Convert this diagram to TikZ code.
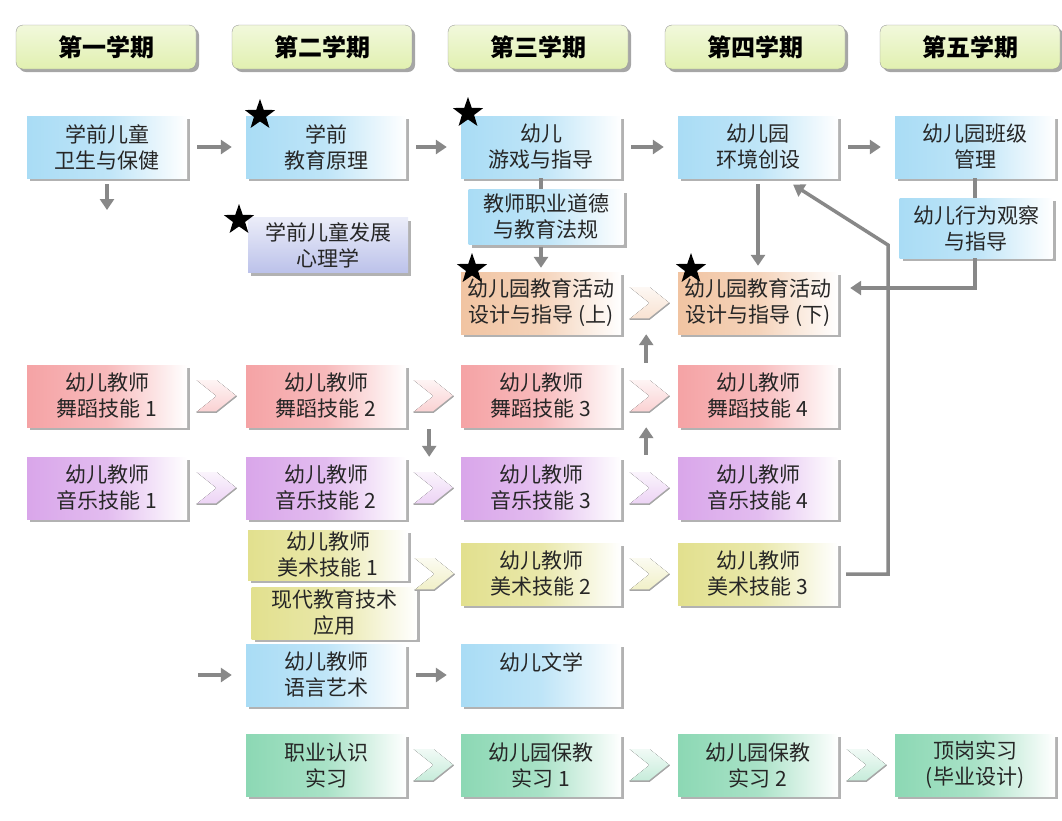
\documentclass[tikz,border=0pt]{standalone}
\usepackage{fontspec}
\newfontfamily\cjk{Noto Sans CJK SC}
\usepackage{tikz}
\usepackage{xcolor}
\usetikzlibrary{arrows.meta,calc,shapes.geometric,shadows}

\definecolor{hdr}{HTML}{E1F0B0}
\definecolor{kblue}{HTML}{A9DCF5}
\definecolor{klav}{HTML}{BCC2EA}
\definecolor{kpeach}{HTML}{F1C4A2}
\definecolor{kdance}{HTML}{F5A3A5}
\definecolor{kmusic}{HTML}{D9A6EA}
\definecolor{kart}{HTML}{E2E08E}
\definecolor{kgreen}{HTML}{8CD8B4}
\definecolor{kline}{HTML}{888888}

\begin{document}
\begin{tikzpicture}[x=1pt, y=-1pt,
  term/.style={rounded corners=7pt, draw=black!40, top color=hdr!45, bottom color=hdr,
    minimum width=180pt, minimum height=44pt, inner sep=0pt,
    font=\cjk\fontsize{24}{26}\selectfont\bfseries,
    drop shadow={shadow xshift=3pt, shadow yshift=-3pt, fill=black!35, opacity=1}},
  course/.style={minimum width=160pt, minimum height=62pt, inner sep=0pt, align=center,
    font=\cjk\fontsize{21}{26}\selectfont, text=black!85,
    left color=#1, right color=white, middle color=#1!75,
    drop shadow={shadow xshift=3pt, shadow yshift=-3pt, fill=black!30, opacity=1}},
  keystar/.style={star, star points=5, star point ratio=2.5, fill=black,
    minimum size=32pt, inner sep=0pt},
  link/.style={draw=kline, line width=3.5pt, -{Triangle[length=11pt,width=14pt]},
    shorten <=10pt, shorten >=14pt},
  plain/.style={draw=kline, line width=3.5pt}]

  \useasboundingbox (0,0) rectangle (1062,820);

  % semestre
  \foreach \i/\t/\x in {1/第一学期/106, 2/第二学期/322, 3/第三学期/538,
                        4/第四学期/755, 5/第五学期/970}
    \node[term] (t\i) at (\x,47) {\t};

  % foerste rad
  \node[course=kblue] (r1a) at (107,147) {学前儿童\\卫生与保健};
  \node[course=kblue] (r1b) at (326,147) {学前\\教育原理};
  \node[course=kblue] (r1c) at (541,147) {幼儿\\游戏与指导};
  \node[course=kblue] (r1d) at (758,147) {幼儿园\\环境创设};
  \node[course=kblue] (r1e) at (975,147) {幼儿园班级\\管理};

  \node[course=klav, minimum height=55pt, top color=klav!30, bottom color=klav]
    (psy) at (328,245) {学前儿童发展\\心理学};
  \node[course=kblue, minimum width=155pt, minimum height=55pt]
    (eth) at (546,217) {教师职业道德\\与教育法规};
  \node[course=kblue, minimum width=153pt, minimum height=60pt]
    (obs) at (976,228) {幼儿行为观察\\与指导};

  \node[course=kpeach] (pa) at (541,303) {幼儿园教育活动\\设计与指导 (上)};
  \node[course=kpeach] (pb) at (758,303) {幼儿园教育活动\\设计与指导 (下)};

  % ferdigheter
  \foreach \i/\x in {1/107, 2/326, 3/541, 4/758} {
    \node[course=kdance] (d\i) at (\x,396) {幼儿教师\\舞蹈技能 \i};
    \node[course=kmusic] (m\i) at (\x,488) {幼儿教师\\音乐技能 \i};
  }

  \node[course=kart, minimum height=50pt] (a1) at (328,555) {幼儿教师\\美术技能 1};
  \node[course=kart, minimum width=165pt, minimum height=52pt]
    (tech) at (334,613) {现代教育技术\\应用};
  \node[course=kart] (a2) at (541,574) {幼儿教师\\美术技能 2};
  \node[course=kart] (a3) at (758,574) {幼儿教师\\美术技能 3};

  \node[course=kblue] (l1) at (326,675) {幼儿教师\\语言艺术};
  \node[course=kblue] (l2) at (541,675) {幼儿文学\\\mbox{}};

  % praksis
  \node[course=kgreen] (p1) at (326,765) {职业认识\\实习};
  \node[course=kgreen] (p2) at (541,765) {幼儿园保教\\实习 1};
  \node[course=kgreen] (p3) at (758,765) {幼儿园保教\\实习 2};
  \node[course=kgreen] (p4) at (975,765) {顶岗实习\\(毕业设计)};

  % stjerner
  \foreach \i/\x/\y in {1/260/115, 2/468/113, 3/239/220, 4/472/269, 5/691/269}
    \node[keystar] (s\i) at (\x,\y) {};

  % piler
  \draw[link] (r1a) -- (r1b);
  \draw[link] (r1b) -- (r1c);
  \draw[link] (r1c) -- (r1d);
  \draw[link] (r1d) -- (r1e);

  \coordinate (dn) at (107,210);
  \draw[link, shorten <=6pt, shorten >=0pt] (r1a.south) -- (dn);

  \draw[plain] (r1c.south) -- (r1c.south |- eth.north);
  \draw[link, shorten <=2pt, shorten >=4pt] (eth.south -| r1c.south) -- (pa.north);
  \draw[link, shorten <=6pt, shorten >=6pt] (r1d.south) -- (pb.north);

  \draw[plain] (r1e.south) -- (r1e.south |- obs.north);
  \draw[link, shorten <=0pt, shorten >=12pt] (obs.south -| r1e.south) |- ([yshift=15pt]pb.east);

  \coordinate (kn) at (888,245);
  \draw[link, shorten <=8pt, shorten >=12pt] (a3.east) -| (kn) -- ([xshift=25pt]r1d.south);

  \draw[link, shorten <=2pt, shorten >=0pt] ([xshift=23pt]d2.south east) -- ([xshift=23pt]m2.north east);
  \draw[link, shorten <=2pt, shorten >=0pt] ([xshift=25pt]m3.north east) -- ([xshift=25pt]d3.south east);
  \draw[link, shorten <=2pt, shorten >=0pt] ([xshift=25pt]d3.north east) -- ([xshift=25pt]pa.south east);

  \coordinate (lin) at (198,675);
  \draw[link, shorten <=0pt] (lin) -- (l1.west);
  \draw[link] (l1) -- (l2);

  % chevroner
  \foreach \a/\b/\cc in {pa/pb/kpeach, d1/d2/kdance, d2/d3/kdance, d3/d4/kdance,
                         m1/m2/kmusic, m2/m3/kmusic, m3/m4/kmusic, a1/a2/kart,
                         a2/a3/kart, p1/p2/kgreen, p2/p3/kgreen, p3/p4/kgreen} {
    \path ($(\a.east)!0.5!(\b.west)$) coordinate (cm);
    \begin{scope}[shift={(cm |- \b.west)}]
      \fill[top color=\cc!12, bottom color=\cc!50]
        (-20,-16) -- (0,-16) -- (20,0) -- (0,16) -- (-20,16) -- (0,0) -- cycle;
      \draw[black!35, line width=1.5pt] (-20,16) -- (0,16) -- (20,0);
    \end{scope}
  }
\end{tikzpicture}
\end{document}
